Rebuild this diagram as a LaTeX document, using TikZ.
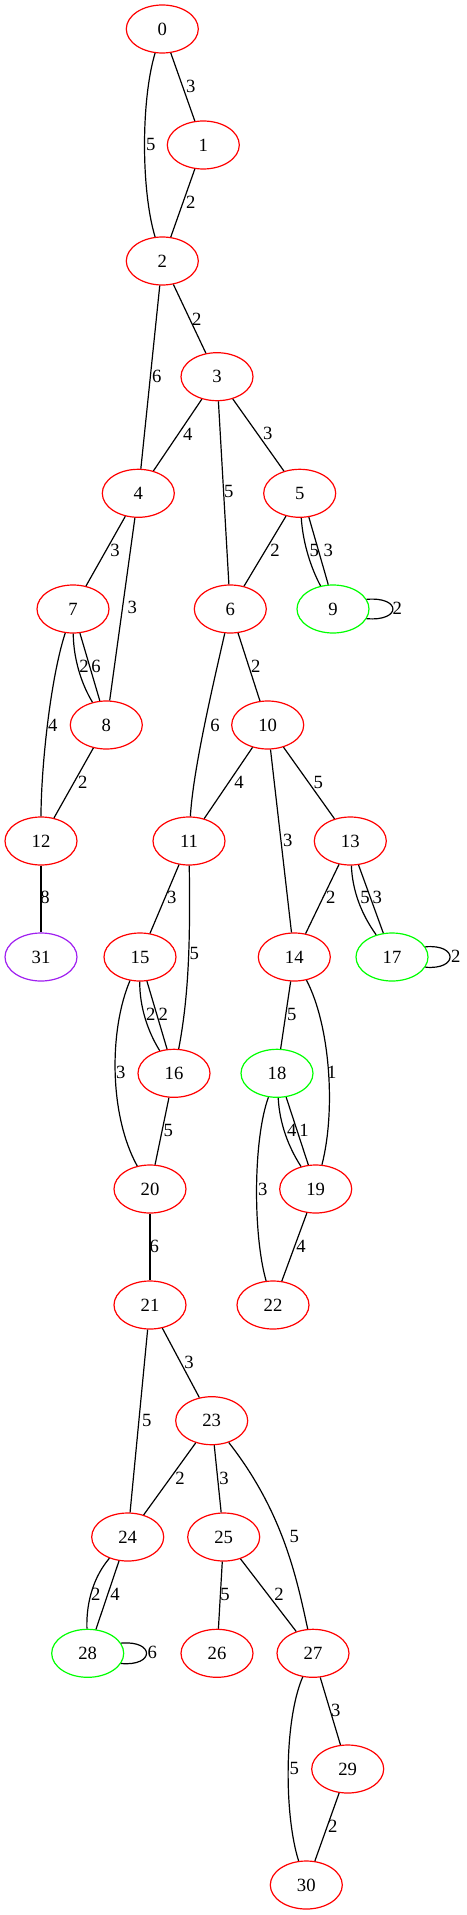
\documentclass[tikz,border=0pt]{standalone}
\usepackage{fontspec}
\setmainfont{Liberation Serif}
\usetikzlibrary{shapes.geometric}
\definecolor{gvred}{RGB}{255,0,0}
\definecolor{gvgreen}{RGB}{0,255,0}
\definecolor{gvpurple}{RGB}{160,32,240}
\begin{document}
\begin{tikzpicture}[x=0.75pt,y=-0.75pt,
  vert/.style={ellipse,draw=gvred,line width=0.9pt,minimum width=54pt,minimum height=36pt,inner sep=0pt,font=\fontsize{14}{16}\selectfont},
  gvert/.style={vert,draw=gvgreen},
  pvert/.style={vert,draw=gvpurple},
  link/.style={draw=black,line width=0.9pt},
  lbl/.style={inner sep=0pt,font=\fontsize{14}{16}\selectfont}]
\useasboundingbox (0,0) rectangle (467,1915);
% nodes
\node[vert] (n0) at (162.3,29) {0};
\node[vert] (n1) at (203.3,145) {1};
\node[vert] (n2) at (162.3,261) {2};
\node[vert] (n3) at (217,376.7) {3};
\node[vert] (n4) at (138.3,493.3) {4};
\node[vert] (n5) at (299.7,493.3) {5};
\node[vert] (n7) at (73,609) {7};
\node[vert] (n6) at (230.3,609) {6};
\node[gvert] (n9) at (333,609) {9};
\node[vert] (n8) at (106.3,725) {8};
\node[vert] (n10) at (267.7,725) {10};
\node[vert] (n12) at (41,841) {12};
\node[vert] (n11) at (189,841) {11};
\node[vert] (n13) at (350.3,841) {13};
\node[pvert] (n31) at (41,957) {31};
\node[vert] (n15) at (140,957) {15};
\node[vert] (n14) at (294.3,957) {14};
\node[gvert] (n17) at (392,957) {17};
\node[vert] (n16) at (174,1073.3) {16};
\node[gvert] (n18) at (277,1073.3) {18};
\node[vert] (n20) at (150,1189) {20};
\node[vert] (n19) at (315.7,1189) {19};
\node[vert] (n21) at (150,1305) {21};
\node[vert] (n22) at (273,1305) {22};
\node[vert] (n23) at (211.7,1420.7) {23};
\node[vert] (n24) at (127.7,1537) {24};
\node[vert] (n25) at (223.7,1537) {25};
\node[gvert] (n28) at (87.7,1653.3) {28};
\node[vert] (n26) at (217,1653.3) {26};
\node[vert] (n27) at (313,1653.3) {27};
\node[vert] (n29) at (347.7,1769) {29};
\node[vert] (n30) at (306.3,1885) {30};
% edges
\draw[link] (n0) -- (n1);
\draw[link] (n0) .. controls (141,100) and (141,190) .. (n2);
\draw[link] (n1) -- (n2);
\draw[link] (n2) -- (n3);
\draw[link] (n2) -- (n4);
\draw[link] (n3) -- (n4);
\draw[link] (n3) -- (n6);
\draw[link] (n3) -- (n5);
\draw[link] (n4) -- (n7);
\draw[link] (n4) -- (n8);
\draw[link] (n5) -- (n6);
\draw[link] (n5) .. controls (303,545) and (312,570) .. (n9);
\draw[link] (n5.-69) -- (n9.101);
\draw[link] (n9.16) .. controls +(35,-3) and +(35,3) .. (n9.-16);
\draw[link] (n7) .. controls (73.5,660) and (82,685) .. (n8);
\draw[link] (n7.-74) -- (n8.105);
\draw[link] (n7) .. controls (50,680) and (41,770) .. (n12);
\draw[link] (n8) -- (n12);
\draw[link] (n6) .. controls (213,685) and (193,770) .. (n11);
\draw[link] (n6) -- (n10);
\draw[link] (n10) -- (n11);
\draw[link] (n10) -- (n14);
\draw[link] (n10) -- (n13);
\draw[link] (n12) -- (n31);
\draw[link] (n11) -- (n15);
\draw[link] (n11) .. controls (190,930) and (190,990) .. (n16);
\draw[link] (n13) -- (n14);
\draw[link] (n13) .. controls (352.5,892) and (362,915) .. (n17);
\draw[link] (n13.-71) -- (n17.110);
\draw[link] (n17.17) .. controls +(33,-3) and +(33,3) .. (n17.-17);
\draw[link] (n15) .. controls (139.5,1007) and (148,1032) .. (n16);
\draw[link] (n15.-74) -- (n16.106);
\draw[link] (n15) .. controls (109,1030) and (109,1115) .. (n20);
\draw[link] (n16) -- (n20);
\draw[link] (n14) -- (n18);
\draw[link] (n14) .. controls (330,1025) and (336,1110) .. (n19);
\draw[link] (n18) .. controls (279.5,1124) and (289,1148) .. (n19);
\draw[link] (n18.-69) -- (n19.107);
\draw[link] (n18) .. controls (253,1140) and (253,1235) .. (n22);
\draw[link] (n19) -- (n22);
\draw[link] (n20) -- (n21);
\draw[link] (n21) -- (n23);
\draw[link] (n21) -- (n24);
\draw[link] (n23) -- (n24);
\draw[link] (n23) -- (n25);
\draw[link] (n23) .. controls (283.3,1512.2) and (296.7,1578.3) .. (n27);
\draw[link] (n24) .. controls (95,1575) and (86,1600) .. (n28);
\draw[link] (n24.-110) -- (n28.71);
\draw[link] (n28.17) .. controls +(34,-3) and +(34,3) .. (n28.-17);
\draw[link] (n25) -- (n26);
\draw[link] (n25) -- (n27);
\draw[link] (n27) -- (n29);
\draw[link] (n27) .. controls (284,1720) and (284,1815) .. (n30);
\draw[link] (n29) -- (n30);
% edge labels
\node[lbl] (l01) at (190.7,86) {3};
\node[lbl] (l02) at (150.7,144) {5};
\node[lbl] (l12) at (190.7,202) {2};
\node[lbl] (l23) at (196.7,319) {2};
\node[lbl] (l24) at (156.7,376.7) {6};
\node[lbl] (l34) at (187.7,434.3) {4};
\node[lbl] (l36) at (228.7,491.7) {5};
\node[lbl] (l35) at (267.7,433.3) {3};
\node[lbl] (l47) at (115,550) {3};
\node[lbl] (l48) at (132.3,607.7) {3};
\node[lbl] (l56) at (275,550) {2};
\node[lbl] (l59a) at (314.3,550) {5};
\node[lbl] (l59b) at (328.3,550) {3};
\node[lbl] (l99) at (397.3,608.3) {2};
\node[lbl] (l78a) at (84,666.7) {2};
\node[lbl] (l78b) at (96,666.7) {6};
\node[lbl] (l712) at (52.7,725) {4};
\node[lbl] (l812) at (82.7,782.3) {2};
\node[lbl] (l611) at (215,725) {6};
\node[lbl] (l610) at (255.7,666.7) {2};
\node[lbl] (l1011) at (239,782.3) {4};
\node[lbl] (l1014) at (287.7,840) {3};
\node[lbl] (l1013) at (318.3,782.3) {5};
\node[lbl] (l1231) at (45,897.7) {8};
\node[lbl] (l1115) at (171.7,897.7) {3};
\node[lbl] (l1116) at (194.3,953.3) {5};
\node[lbl] (l1314) at (330.7,897.7) {2};
\node[lbl] (l1317a) at (365,897.7) {5};
\node[lbl] (l1317b) at (377.3,897.7) {3};
\node[lbl] (l1717) at (455.7,956) {2};
\node[lbl] (l1516a) at (150.7,1014) {2};
\node[lbl] (l1516b) at (163.3,1014) {2};
\node[lbl] (l1520) at (120.7,1072.3) {3};
\node[lbl] (l1620) at (168.3,1130) {5};
\node[lbl] (l1418) at (291.7,1014) {5};
\node[lbl] (l1419) at (331.7,1072.3) {1};
\node[lbl] (l1819a) at (291.7,1130.7) {4};
\node[lbl] (l1819b) at (304,1130.7) {1};
\node[lbl] (l1822) at (262.7,1189) {3};
\node[lbl] (l1922) at (301,1246.7) {4};
\node[lbl] (l2021) at (154.3,1246.7) {6};
\node[lbl] (l2123) at (189,1362.3) {3};
\node[lbl] (l2124) at (146.7,1420) {5};
\node[lbl] (l2324) at (180,1478.3) {2};
\node[lbl] (l2325) at (224,1478.3) {3};
\node[lbl] (l2327) at (294.3,1536) {5};
\node[lbl] (l2428a) at (95.7,1594.3) {2};
\node[lbl] (l2428b) at (115,1594.3) {4};
\node[lbl] (l2828) at (152.3,1652.3) {6};
\node[lbl] (l2526) at (225,1594.3) {5};
\node[lbl] (l2527) at (279,1594.3) {2};
\node[lbl] (l2729) at (335.7,1710) {3};
\node[lbl] (l2730) at (294.3,1768.3) {5};
\node[lbl] (l2930) at (332.7,1826.7) {2};
\end{tikzpicture}
\end{document}
